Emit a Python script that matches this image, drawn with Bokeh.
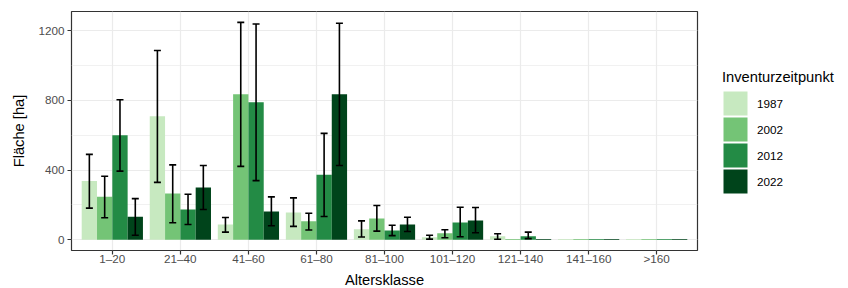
import math
from bokeh.plotting import figure
from bokeh.models import (FactorRange, Range1d, FixedTicker, Whisker, TeeHead,
                          ColumnDataSource, Legend, LegendItem)
from bokeh.transform import dodge
from bokeh.embed import file_html
from bokeh.resources import INLINE

# ---- data -------------------------------------------------------------
cats = ["1–20", "21–40", "41–60", "61–80", "81–100", "101–120", "121–140", "141–160", ">160"]
years = ["1987", "2002", "2012", "2022"]
colors = ["#C7E9C0", "#74C476", "#238B45", "#00441B"]

f1987 = [337, 710, 87, 156, 59, 13, 19, 4, 4]
f2002 = [246, 265, 836, 105, 122, 36, 4, 4, 4]
f2012 = [600, 173, 790, 373, 53, 99, 19, 4, 4]
f2022 = [131, 299, 162, 836, 87, 110, 4, 4, 4]

nan = float("nan")
up1987 = [490, 1087, 127, 240, 108, 25, 34, nan, nan]
lo1987 = [181, 329, 43, 76, 15, 3, 2, nan, nan]
up2002 = [364, 430, 1249, 152, 196, 57, nan, nan, nan]
lo2002 = [126, 97, 421, 55, 49, 11, nan, nan, nan]
up2012 = [804, 261, 1240, 611, 83, 186, 43, nan, nan]
lo2012 = [394, 87, 339, 133, 23, 17, 6, nan, nan]
up2022 = [236, 426, 246, 1244, 129, 185, nan, nan, nan]
lo2022 = [25, 173, 80, 426, 47, 40, nan, nan, nan]

values = [f1987, f2002, f2012, f2022]
uppers = [up1987, up2002, up2012, up2022]
lowers = [lo1987, lo2002, lo2012, lo2022]

y_ticks = [0, 400, 800, 1200]
y_minor = [200, 600, 1000]

FONT = "Liberation Sans"

# ---- figure -----------------------------------------------------------
p = figure(x_range=FactorRange(factors=cats, range_padding=0.1, range_padding_units="absolute"),
           y_range=Range1d(-62.45, 1311.45),
           frame_width=626, frame_height=239,
           min_border_left=71, min_border_top=11, min_border_bottom=38, min_border_right=151,
           output_backend="svg", toolbar_location=None)

p.background_fill_color = "white"
p.border_fill_color = "white"
p.outline_line_color = "#333333"
p.outline_line_width = 1.2

bw = 0.225
offsets = [-1.5 * bw, -0.5 * bw, 0.5 * bw, 1.5 * bw]
items = []
for yr, col, vals, ups, los, off in zip(years, colors, values, uppers, lowers, offsets):
    src = ColumnDataSource(dict(cat=cats, val=vals))
    p.vbar(x=dodge("cat", off, range=p.x_range), top="val", bottom=0, width=bw,
           fill_color=col, line_color=None, source=src)
    # legend swatch: hidden copy of the bars, used only for the legend key
    key = p.vbar(x=dodge("cat", off, range=p.x_range), top="val", bottom=0, width=bw,
                 fill_color=col, line_color=col, line_width=3.2, line_join="miter",
                 source=src, visible=False)
    items.append(LegendItem(label=yr, renderers=[key]))
    ec, eu, el = [], [], []
    for c, u, l in zip(cats, ups, los):
        if not (math.isnan(u) or math.isnan(l)):
            ec.append(c); eu.append(u); el.append(l)
    esrc = ColumnDataSource(dict(cat=ec, up=eu, lo=el))
    w = Whisker(base=dodge("cat", off, range=p.x_range), upper="up", lower="lo", source=esrc,
                line_color="black", line_width=1.6, level="overlay",
                upper_head=TeeHead(size=7, line_width=1.6, line_color="black"),
                lower_head=TeeHead(size=7, line_width=1.6, line_color="black"))
    p.add_layout(w)

# grids
p.xgrid.grid_line_color = "#EBEBEB"
p.xgrid.grid_line_width = 1.2
p.ygrid.grid_line_color = "#EBEBEB"
p.ygrid.grid_line_width = 1.2
p.ygrid.minor_grid_line_color = "#EBEBEB"
p.ygrid.minor_grid_line_width = 0.7
p.xgrid.level = "image"
p.ygrid.level = "image"

# axes
p.yaxis.ticker = FixedTicker(ticks=y_ticks, minor_ticks=y_minor)
for ax in (p.xaxis[0], p.yaxis[0]):
    ax.axis_line_color = None
    ax.major_tick_in = 0
    ax.major_tick_out = 4
    ax.major_tick_line_color = "#333333"
    ax.major_tick_line_width = 1.2
    ax.minor_tick_line_color = None
    ax.major_label_text_color = "#4D4D4D"
    ax.major_label_text_font = FONT
    ax.major_label_text_font_size = "11.7px"
    ax.major_label_standoff = 3
    ax.axis_label_text_font = FONT
    ax.axis_label_text_font_size = "14.7px"
    ax.axis_label_text_font_style = "normal"
    ax.axis_label_text_color = "black"
p.xaxis.major_label_standoff = -3
p.xaxis.axis_label = "Altersklasse"
p.yaxis.axis_label = "Fläche [ha]"
p.xaxis.axis_label_standoff = 4
p.yaxis.axis_label_standoff = 8

legend = Legend(items=items, location=(25, 56), title="Inventurzeitpunkt",
                title_text_font=FONT, title_text_font_size="14.7px", title_text_font_style="normal",
                title_text_color="black",
                label_text_font=FONT, label_text_font_size="11.7px", label_text_color="black",
                glyph_width=26, glyph_height=26, spacing=0, label_standoff=9,
                padding=0, margin=0, title_standoff=5,
                border_line_color=None, background_fill_alpha=0)
p.add_layout(legend, "right")

open("out.html", "w").write(file_html(p, INLINE))
